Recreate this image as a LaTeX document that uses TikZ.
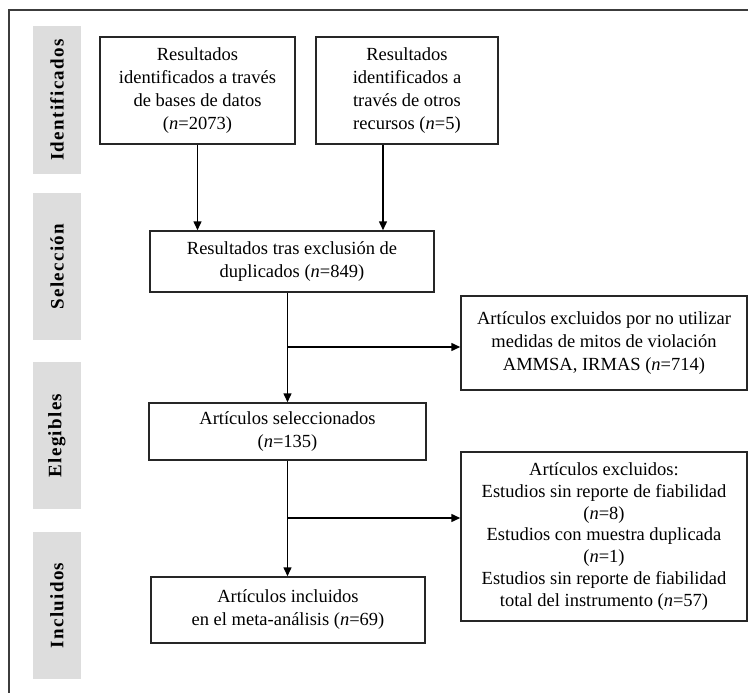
\documentclass[tikz,border=0pt]{standalone}
\usepackage{fontspec}
\setmainfont{Liberation Serif}
\usetikzlibrary{arrows.meta}
\definecolor{stagegray}{RGB}{221,221,221}
\definecolor{framegray}{RGB}{60,60,60}
\begin{document}
\begin{tikzpicture}[x=1pt,y=-1pt,
  box/.style={draw=black!85, line width=1.5pt, align=center, inner sep=0pt,
    font=\fontsize{18.5}{23}\selectfont},
  stage/.style={fill=stagegray, draw=none, rotate=90, inner sep=0pt,
    minimum width=147pt, minimum height=48pt,
    font=\fontsize{19}{22}\selectfont\bfseries\addfontfeatures{LetterSpace=7}},
  arr/.style={line width=1.5pt, -{Triangle[width=8pt,length=9pt]}}]
\useasboundingbox (0,0) rectangle (748,693);
% outer frame (top and left edges)
\draw[framegray, line width=1.3pt] (748,10) -- (9,10) -- (9,693);
% stage labels
\node[stage] (s1) at (57,100) {Identificados};
\node[stage] (s2) at (57,266.5) {Selección};
\node[stage] (s3) at (57,435.5) {Elegibles};
\node[stage] (s4) at (57,605.5) {Incluidos};
% boxes
\node[box, minimum width=195pt, minimum height=107pt] (A) at (197.5,90.5)
  {Resultados\\identificados a través\\de bases de datos\\(\textit{n}=2073)};
\node[box, minimum width=182pt, minimum height=107pt] (B) at (407,90.5)
  {Resultados\\identificados a\\través de otros\\recursos (\textit{n}=5)};
\node[box, minimum width=284pt, minimum height=61pt] (C) at (292,261.5)
  {Resultados tras exclusión de\\duplicados (\textit{n}=849)};
\node[box, minimum width=286pt, minimum height=94pt] (D) at (604,343)
  {Artículos excluidos por no utilizar\\medidas de mitos de violación\\AMMSA, IRMAS (\textit{n}=714)};
\node[box, minimum width=277pt, minimum height=57pt] (E) at (287.5,431.5)
  {Artículos seleccionados\\(\textit{n}=135)};
\node[box, minimum width=274pt, minimum height=66pt] (F) at (288,610)
  {Artículos incluidos\\en el meta-análisis (\textit{n}=69)};
\node[box, minimum width=286pt, minimum height=169pt,
  font=\fontsize{18.5}{21.8}\selectfont] (G) at (604,536.5)
  {Artículos excluidos:\\Estudios sin reporte de fiabilidad\\(\textit{n}=8)\\Estudios con muestra duplicada\\(\textit{n}=1)\\Estudios sin reporte de fiabilidad\\total del instrumento (\textit{n}=57)};
% connectors
\draw[arr] (A.south) -- (A.south |- C.north);
\coordinate (bsrc) at ([xshift=-24pt]B.south);
\draw[arr] (bsrc) -- (bsrc |- C.north);
\coordinate (c1) at (C.south -| E.north);
\draw[arr] (c1) -- (E.north);
\coordinate (b1) at (287.5,347);
\draw[arr] (b1) -- (b1 -| D.west);
\draw[arr] (E.south) -- (E.south |- F.north);
\coordinate (b2) at (287.5,518);
\draw[arr] (b2) -- (b2 -| G.west);
\end{tikzpicture}
\end{document}
